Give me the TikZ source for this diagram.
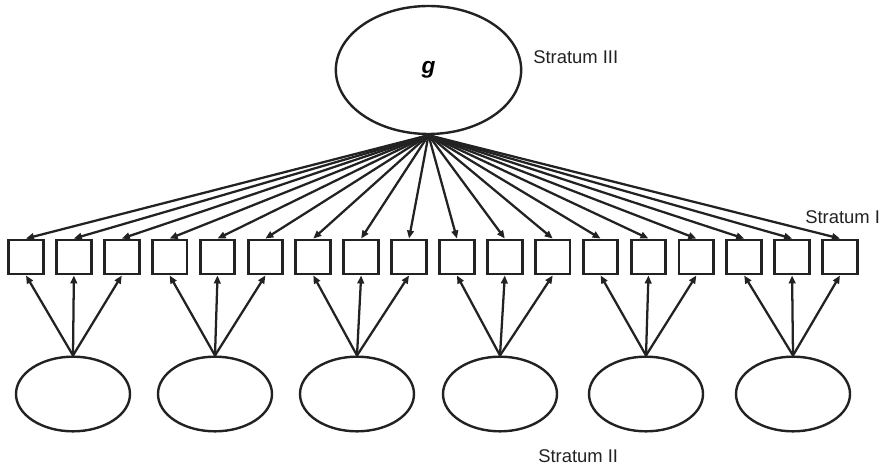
\documentclass[tikz,border=0pt]{standalone}
\usepackage{fontspec}
\setmainfont{Liberation Sans}
\usetikzlibrary{arrows.meta,shapes.geometric}
\definecolor{ink}{HTML}{222222}
\begin{document}
\begin{tikzpicture}[x=0.75pt,y=-0.75pt,
  ell/.style={ellipse,draw=ink,line width=1.8pt,inner sep=0pt},
  sq/.style={rectangle,draw=ink,line width=2.2pt,minimum width=26pt,minimum height=25.5pt,inner sep=0pt},
  arr/.style={draw=ink,line width=1.7pt,-{Triangle[length=6pt,width=5pt]}},
  lab/.style={text=ink,font=\fontsize{13.8}{16}\selectfont,inner sep=0pt,anchor=base west}]
\useasboundingbox (0,0) rectangle (884,466);
\node[ell,minimum width=139pt,minimum height=96pt] (g) at (428.5,70) {\fontsize{17}{20}\selectfont\bfseries\itshape g};
\foreach \i in {0,...,17} \node[sq] (s\i) at ({26+47.88*\i},257) {};
\foreach \j/\x in {0/73,1/215,2/357,3/500,4/646,5/793} \node[ell,minimum width=85.5pt,minimum height=56pt] (e\j) at (\x,394) {};
\foreach \i in {0,...,17} \draw[arr] (g.south) -- (s\i.north);
\foreach \j in {0,...,5} {
  \foreach \k in {0,1,2} {
    \pgfmathtruncatemacro{\n}{3*\j+\k}
    \draw[arr] (e\j.north) -- (s\n.south);
  }
}
\node[lab] (l3) at (533,64) {Stratum III};
\node[lab] (l1) at (805,224) {Stratum I};
\node[lab] (l2) at (538,462) {Stratum II};
\end{tikzpicture}
\end{document}
